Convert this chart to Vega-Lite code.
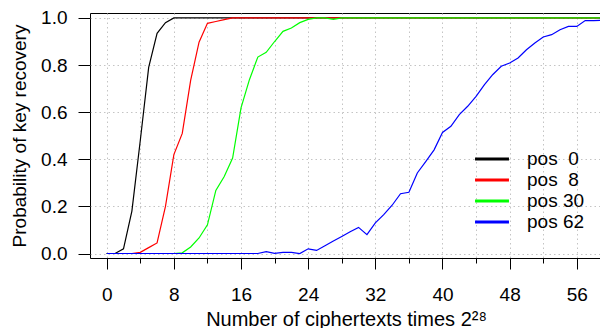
{
  "$schema": "https://vega.github.io/schema/vega-lite/v6.json",
  "autosize": {"type": "none"},
  "padding": {"left": 90, "top": 13, "right": 0, "bottom": 70},
  "width": 512,
  "height": 245,
  "background": "white",
  "config": {
    "view": {"stroke": "#000000", "strokeWidth": 1},
    "font": "Liberation Sans",
    "axis": {"labelColor": "#000", "titleColor": "#000", "tickColor": "#000", "titleFontWeight": "normal", "gridColor": "#c4c4c4", "gridDash": [1.5, 3], "gridWidth": 1}
  },
  "datasets": {
    "curves": [
      {"x": 0, "p": 0, "series": "pos 0"}, {"x": 1, "p": 0, "series": "pos 0"}, {"x": 2, "p": 0.02, "series": "pos 0"}, {"x": 3, "p": 0.18, "series": "pos 0"}, {"x": 4, "p": 0.48, "series": "pos 0"}, {"x": 5, "p": 0.79, "series": "pos 0"}, {"x": 6, "p": 0.935, "series": "pos 0"}, {"x": 7, "p": 0.98, "series": "pos 0"}, {"x": 8, "p": 1, "series": "pos 0"}, {"x": 9, "p": 1, "series": "pos 0"}, {"x": 10, "p": 1, "series": "pos 0"}, {"x": 11, "p": 1, "series": "pos 0"}, {"x": 12, "p": 1, "series": "pos 0"}, {"x": 13, "p": 1, "series": "pos 0"}, {"x": 14, "p": 1, "series": "pos 0"}, {"x": 15, "p": 1, "series": "pos 0"}, {"x": 16, "p": 1, "series": "pos 0"}, {"x": 17, "p": 1, "series": "pos 0"}, {"x": 18, "p": 1, "series": "pos 0"}, {"x": 19, "p": 1, "series": "pos 0"}, {"x": 20, "p": 1, "series": "pos 0"}, {"x": 21, "p": 1, "series": "pos 0"}, {"x": 22, "p": 1, "series": "pos 0"}, {"x": 23, "p": 1, "series": "pos 0"}, {"x": 24, "p": 1, "series": "pos 0"}, {"x": 25, "p": 1, "series": "pos 0"}, {"x": 26, "p": 1, "series": "pos 0"}, {"x": 27, "p": 1, "series": "pos 0"}, {"x": 28, "p": 1, "series": "pos 0"}, {"x": 29, "p": 1, "series": "pos 0"}, {"x": 30, "p": 1, "series": "pos 0"}, {"x": 31, "p": 1, "series": "pos 0"}, {"x": 32, "p": 1, "series": "pos 0"}, {"x": 33, "p": 1, "series": "pos 0"}, {"x": 34, "p": 1, "series": "pos 0"}, {"x": 35, "p": 1, "series": "pos 0"}, {"x": 36, "p": 1, "series": "pos 0"}, {"x": 37, "p": 1, "series": "pos 0"}, {"x": 38, "p": 1, "series": "pos 0"}, {"x": 39, "p": 1, "series": "pos 0"}, {"x": 40, "p": 1, "series": "pos 0"}, {"x": 41, "p": 1, "series": "pos 0"}, {"x": 42, "p": 1, "series": "pos 0"}, {"x": 43, "p": 1, "series": "pos 0"}, {"x": 44, "p": 1, "series": "pos 0"}, {"x": 45, "p": 1, "series": "pos 0"}, {"x": 46, "p": 1, "series": "pos 0"}, {"x": 47, "p": 1, "series": "pos 0"}, {"x": 48, "p": 1, "series": "pos 0"}, {"x": 49, "p": 1, "series": "pos 0"}, {"x": 50, "p": 1, "series": "pos 0"}, {"x": 51, "p": 1, "series": "pos 0"}, {"x": 52, "p": 1, "series": "pos 0"}, {"x": 53, "p": 1, "series": "pos 0"}, {"x": 54, "p": 1, "series": "pos 0"}, {"x": 55, "p": 1, "series": "pos 0"}, {"x": 56, "p": 1, "series": "pos 0"}, {"x": 57, "p": 1, "series": "pos 0"}, {"x": 58, "p": 1, "series": "pos 0"}, {"x": 59, "p": 1, "series": "pos 0"},
      {"x": 0, "p": 0, "series": "pos 8"}, {"x": 1, "p": 0, "series": "pos 8"}, {"x": 2, "p": 0, "series": "pos 8"}, {"x": 3, "p": 0, "series": "pos 8"}, {"x": 4, "p": 0.005, "series": "pos 8"}, {"x": 5, "p": 0.025, "series": "pos 8"}, {"x": 6, "p": 0.045, "series": "pos 8"}, {"x": 7, "p": 0.2, "series": "pos 8"}, {"x": 8, "p": 0.42, "series": "pos 8"}, {"x": 9, "p": 0.51, "series": "pos 8"}, {"x": 10, "p": 0.735, "series": "pos 8"}, {"x": 11, "p": 0.897, "series": "pos 8"}, {"x": 12, "p": 0.977, "series": "pos 8"}, {"x": 13, "p": 0.985, "series": "pos 8"}, {"x": 14, "p": 0.993, "series": "pos 8"}, {"x": 15, "p": 1, "series": "pos 8"}, {"x": 16, "p": 1, "series": "pos 8"}, {"x": 17, "p": 1, "series": "pos 8"}, {"x": 18, "p": 1, "series": "pos 8"}, {"x": 19, "p": 1, "series": "pos 8"}, {"x": 20, "p": 1, "series": "pos 8"}, {"x": 21, "p": 1, "series": "pos 8"}, {"x": 22, "p": 1, "series": "pos 8"}, {"x": 23, "p": 1, "series": "pos 8"}, {"x": 24, "p": 1, "series": "pos 8"}, {"x": 25, "p": 1, "series": "pos 8"}, {"x": 26, "p": 1, "series": "pos 8"}, {"x": 27, "p": 1, "series": "pos 8"}, {"x": 28, "p": 1, "series": "pos 8"}, {"x": 29, "p": 1, "series": "pos 8"}, {"x": 30, "p": 1, "series": "pos 8"}, {"x": 31, "p": 1, "series": "pos 8"}, {"x": 32, "p": 1, "series": "pos 8"}, {"x": 33, "p": 1, "series": "pos 8"}, {"x": 34, "p": 1, "series": "pos 8"}, {"x": 35, "p": 1, "series": "pos 8"}, {"x": 36, "p": 1, "series": "pos 8"}, {"x": 37, "p": 1, "series": "pos 8"}, {"x": 38, "p": 1, "series": "pos 8"}, {"x": 39, "p": 1, "series": "pos 8"}, {"x": 40, "p": 1, "series": "pos 8"}, {"x": 41, "p": 1, "series": "pos 8"}, {"x": 42, "p": 1, "series": "pos 8"}, {"x": 43, "p": 1, "series": "pos 8"}, {"x": 44, "p": 1, "series": "pos 8"}, {"x": 45, "p": 1, "series": "pos 8"}, {"x": 46, "p": 1, "series": "pos 8"}, {"x": 47, "p": 1, "series": "pos 8"}, {"x": 48, "p": 1, "series": "pos 8"}, {"x": 49, "p": 1, "series": "pos 8"}, {"x": 50, "p": 1, "series": "pos 8"}, {"x": 51, "p": 1, "series": "pos 8"}, {"x": 52, "p": 1, "series": "pos 8"}, {"x": 53, "p": 1, "series": "pos 8"}, {"x": 54, "p": 1, "series": "pos 8"}, {"x": 55, "p": 1, "series": "pos 8"}, {"x": 56, "p": 1, "series": "pos 8"}, {"x": 57, "p": 1, "series": "pos 8"}, {"x": 58, "p": 1, "series": "pos 8"}, {"x": 59, "p": 1, "series": "pos 8"},
      {"x": 0, "p": 0, "series": "pos 30"}, {"x": 1, "p": 0, "series": "pos 30"}, {"x": 2, "p": 0, "series": "pos 30"}, {"x": 3, "p": 0, "series": "pos 30"}, {"x": 4, "p": 0, "series": "pos 30"}, {"x": 5, "p": 0, "series": "pos 30"}, {"x": 6, "p": 0, "series": "pos 30"}, {"x": 7, "p": 0, "series": "pos 30"}, {"x": 8, "p": 0, "series": "pos 30"}, {"x": 9, "p": 0.003, "series": "pos 30"}, {"x": 10, "p": 0.028, "series": "pos 30"}, {"x": 11, "p": 0.066, "series": "pos 30"}, {"x": 12, "p": 0.122, "series": "pos 30"}, {"x": 13, "p": 0.268, "series": "pos 30"}, {"x": 14, "p": 0.327, "series": "pos 30"}, {"x": 15, "p": 0.405, "series": "pos 30"}, {"x": 16, "p": 0.618, "series": "pos 30"}, {"x": 17, "p": 0.738, "series": "pos 30"}, {"x": 18, "p": 0.834, "series": "pos 30"}, {"x": 19, "p": 0.854, "series": "pos 30"}, {"x": 20, "p": 0.9, "series": "pos 30"}, {"x": 21, "p": 0.943, "series": "pos 30"}, {"x": 22, "p": 0.957, "series": "pos 30"}, {"x": 23, "p": 0.98, "series": "pos 30"}, {"x": 24, "p": 0.994, "series": "pos 30"}, {"x": 25, "p": 1, "series": "pos 30"}, {"x": 26, "p": 1, "series": "pos 30"}, {"x": 27, "p": 0.994, "series": "pos 30"}, {"x": 28, "p": 1, "series": "pos 30"}, {"x": 29, "p": 1, "series": "pos 30"}, {"x": 30, "p": 1, "series": "pos 30"}, {"x": 31, "p": 1, "series": "pos 30"}, {"x": 32, "p": 1, "series": "pos 30"}, {"x": 33, "p": 1, "series": "pos 30"}, {"x": 34, "p": 1, "series": "pos 30"}, {"x": 35, "p": 1, "series": "pos 30"}, {"x": 36, "p": 1, "series": "pos 30"}, {"x": 37, "p": 1, "series": "pos 30"}, {"x": 38, "p": 1, "series": "pos 30"}, {"x": 39, "p": 1, "series": "pos 30"}, {"x": 40, "p": 1, "series": "pos 30"}, {"x": 41, "p": 1, "series": "pos 30"}, {"x": 42, "p": 1, "series": "pos 30"}, {"x": 43, "p": 1, "series": "pos 30"}, {"x": 44, "p": 1, "series": "pos 30"}, {"x": 45, "p": 1, "series": "pos 30"}, {"x": 46, "p": 1, "series": "pos 30"}, {"x": 47, "p": 1, "series": "pos 30"}, {"x": 48, "p": 1, "series": "pos 30"}, {"x": 49, "p": 1, "series": "pos 30"}, {"x": 50, "p": 1, "series": "pos 30"}, {"x": 51, "p": 1, "series": "pos 30"}, {"x": 52, "p": 1, "series": "pos 30"}, {"x": 53, "p": 1, "series": "pos 30"}, {"x": 54, "p": 1, "series": "pos 30"}, {"x": 55, "p": 1, "series": "pos 30"}, {"x": 56, "p": 1, "series": "pos 30"}, {"x": 57, "p": 1, "series": "pos 30"}, {"x": 58, "p": 1, "series": "pos 30"}, {"x": 59, "p": 1, "series": "pos 30"},
      {"x": 0, "p": 0, "series": "pos 62"}, {"x": 1, "p": 0, "series": "pos 62"}, {"x": 2, "p": 0, "series": "pos 62"}, {"x": 3, "p": 0, "series": "pos 62"}, {"x": 4, "p": 0, "series": "pos 62"}, {"x": 5, "p": 0, "series": "pos 62"}, {"x": 6, "p": 0, "series": "pos 62"}, {"x": 7, "p": 0, "series": "pos 62"}, {"x": 8, "p": 0, "series": "pos 62"}, {"x": 9, "p": 0, "series": "pos 62"}, {"x": 10, "p": 0, "series": "pos 62"}, {"x": 11, "p": 0, "series": "pos 62"}, {"x": 12, "p": 0, "series": "pos 62"}, {"x": 13, "p": 0, "series": "pos 62"}, {"x": 14, "p": 0, "series": "pos 62"}, {"x": 15, "p": 0, "series": "pos 62"}, {"x": 16, "p": 0, "series": "pos 62"}, {"x": 17, "p": 0, "series": "pos 62"}, {"x": 18, "p": 0, "series": "pos 62"}, {"x": 19, "p": 0.008, "series": "pos 62"}, {"x": 20, "p": 0.001, "series": "pos 62"}, {"x": 21, "p": 0.005, "series": "pos 62"}, {"x": 22, "p": 0.005, "series": "pos 62"}, {"x": 23, "p": 0, "series": "pos 62"}, {"x": 24, "p": 0.02, "series": "pos 62"}, {"x": 25, "p": 0.013, "series": "pos 62"}, {"x": 26, "p": 0.033, "series": "pos 62"}, {"x": 27, "p": 0.053, "series": "pos 62"}, {"x": 28, "p": 0.072, "series": "pos 62"}, {"x": 29, "p": 0.092, "series": "pos 62"}, {"x": 30, "p": 0.111, "series": "pos 62"}, {"x": 31, "p": 0.08, "series": "pos 62"}, {"x": 32, "p": 0.13, "series": "pos 62"}, {"x": 33, "p": 0.165, "series": "pos 62"}, {"x": 34, "p": 0.205, "series": "pos 62"}, {"x": 35, "p": 0.254, "series": "pos 62"}, {"x": 36, "p": 0.26, "series": "pos 62"}, {"x": 37, "p": 0.342, "series": "pos 62"}, {"x": 38, "p": 0.39, "series": "pos 62"}, {"x": 39, "p": 0.44, "series": "pos 62"}, {"x": 40, "p": 0.514, "series": "pos 62"}, {"x": 41, "p": 0.54, "series": "pos 62"}, {"x": 42, "p": 0.59, "series": "pos 62"}, {"x": 43, "p": 0.625, "series": "pos 62"}, {"x": 44, "p": 0.667, "series": "pos 62"}, {"x": 45, "p": 0.717, "series": "pos 62"}, {"x": 46, "p": 0.76, "series": "pos 62"}, {"x": 47, "p": 0.795, "series": "pos 62"}, {"x": 48, "p": 0.809, "series": "pos 62"}, {"x": 49, "p": 0.83, "series": "pos 62"}, {"x": 50, "p": 0.865, "series": "pos 62"}, {"x": 51, "p": 0.894, "series": "pos 62"}, {"x": 52, "p": 0.919, "series": "pos 62"}, {"x": 53, "p": 0.929, "series": "pos 62"}, {"x": 54, "p": 0.95, "series": "pos 62"}, {"x": 55, "p": 0.964, "series": "pos 62"}, {"x": 56, "p": 0.964, "series": "pos 62"}, {"x": 57, "p": 0.989, "series": "pos 62"}, {"x": 58, "p": 0.989, "series": "pos 62"}, {"x": 59, "p": 0.99, "series": "pos 62"}
    ]
  },
  "data": {"name": "curves"},
  "layer": [
    {
      "mark": {"type": "line", "opacity": 0, "clip": true},
      "encoding": {
        "x": {"field": "x", "type": "quantitative", "scale": {"domain": [-1.99, 59.0], "nice": false, "zero": false},
          "axis": {"orient": "bottom", "values": [0, 4, 8, 12, 16, 20, 24, 28, 32, 36, 40, 44, 48, 52, 56], "labels": false, "title": null, "tickSize": 5, "domain": false, "grid": true}},
        "y": {"field": "p", "type": "quantitative", "scale": {"domain": [-0.019, 1.021], "nice": false, "zero": false},
          "axis": {"values": [0, 0.2, 0.4, 0.6, 0.8, 1.0], "format": ".1f", "grid": true, "domain": false, "tickSize": 12, "labelFontSize": 19, "labelPadding": 11, "title": "Probability of key recovery", "titleFontSize": 19, "titlePadding": 11}},
        "detail": {"field": "series", "type": "nominal"}
      }
    },
    {
      "mark": {"type": "line", "strokeWidth": 1.2, "clip": true},
      "encoding": {
        "x": {"field": "x", "type": "quantitative",
          "axis": {"orient": "bottom", "values": [0, 8, 16, 24, 32, 40, 48, 56], "tickSize": 11, "domain": false, "grid": false, "labelFontSize": 19, "labelPadding": 16, "title": "Number of ciphertexts times 2²⁸", "titleFontSize": 20, "titlePadding": 5}},
        "y": {"field": "p", "type": "quantitative",
          "axis": {"values": [0, 0.2, 0.4, 0.6, 0.8, 1.0], "format": ".1f", "grid": true, "domain": false, "tickSize": 12, "labelFontSize": 19, "labelPadding": 11, "title": "Probability of key recovery", "titleFontSize": 19, "titlePadding": 11}},
        "color": {"field": "series", "type": "nominal",
          "scale": {"domain": ["pos 0", "pos 8", "pos 30", "pos 62"], "range": ["#000000", "#ff0000", "#00ff00", "#0000ff"]},
          "legend": {"orient": "none", "legendX": 392.5, "legendY": 136.5, "title": null, "padding": 0, "symbolType": "M-3,0H3", "symbolStrokeWidth": 3, "symbolSize": 128, "labelFontSize": 19, "labelOffset": 25.5, "rowPadding": 1,
            "labelExpr": "datum.label == 'pos 0' ? 'pos\u00a0\u00a00' : datum.label == 'pos 8' ? 'pos\u00a0\u00a08' : datum.label"}}
      }
    }
  ],
  "resolve": {"axis": {"x": "independent"}}
}
